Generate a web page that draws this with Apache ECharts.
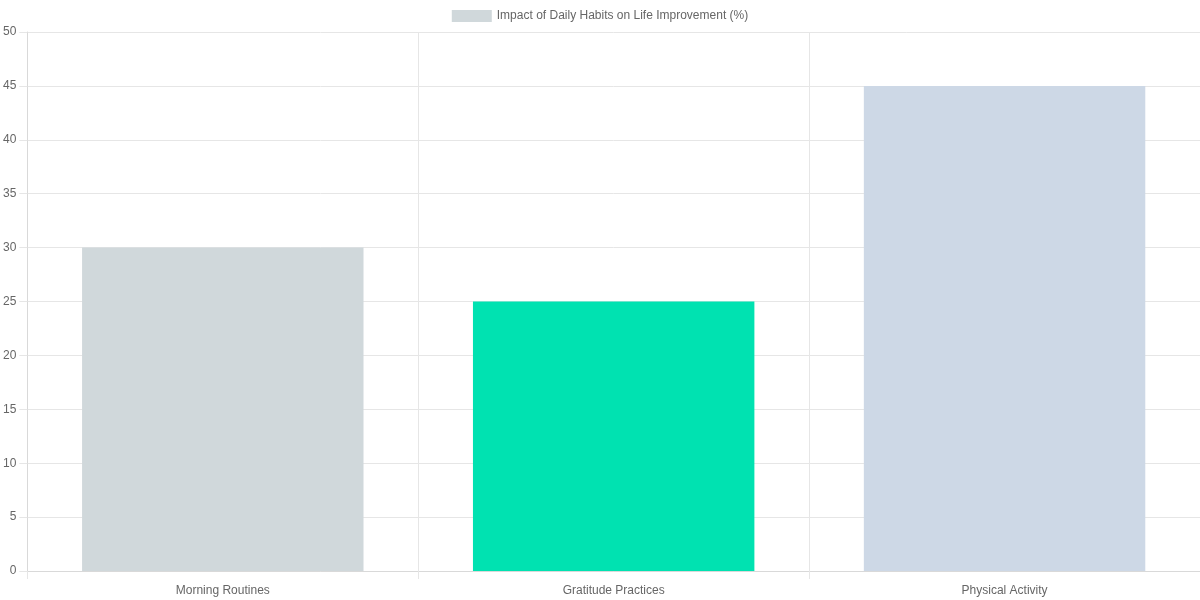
<!DOCTYPE html>
<html>
<head>
<meta charset="utf-8">
<script src="https://cdn.jsdelivr.net/npm/echarts@6/dist/echarts.min.js"></script>
<style>html,body{margin:0;padding:0;background:#fff;}#c{width:1200px;height:600px;}</style>
</head>
<body>
<div id="c"></div>
<script>
const categories = ['Morning Routines', 'Gratitude Practices', 'Physical Activity'];
const values = [30, 25, 45];
const barColors = ['#d0d8db', '#00e2b1', '#cdd8e6'];
const seriesName = 'Impact of Daily Habits on Life Improvement (%)';

const chart = echarts.init(document.getElementById('c'), null, {renderer: 'canvas'});
const font = 'Liberation Sans, Arial, Helvetica, sans-serif';
chart.setOption({
  animation: false,
  textStyle: {fontFamily: font},
  legend: {
    top: 5, left: 'center',
    icon: 'rect',
    itemWidth: 40, itemHeight: 12, itemGap: 10,
    textStyle: {color: '#666', fontSize: 12, fontFamily: font},
    data: [seriesName]
  },
  grid: {left: 27, right: 0, top: 32, bottom: 29, containLabel: false},
  xAxis: {
    type: 'category',
    data: categories,
    boundaryGap: true,
    axisLine: {show: true, lineStyle: {color: '#d9d9d9'}},
    axisTick: {show: true, length: 8, alignWithLabel: false, lineStyle: {color: '#e6e6e6'}},
    splitLine: {show: true, lineStyle: {color: '#e6e6e6'}},
    axisLabel: {color: '#666', fontSize: 12, margin: 14, fontFamily: font}
  },
  yAxis: {
    type: 'value',
    min: 0, max: 50, interval: 5,
    axisLine: {show: true, lineStyle: {color: '#d9d9d9'}},
    axisTick: {show: true, length: 8, lineStyle: {color: '#e6e6e6'}},
    splitLine: {show: true, lineStyle: {color: '#e6e6e6'}},
    axisLabel: {color: '#666', fontSize: 12, margin: 11, fontFamily: font, padding: [2, 0, 0, 0]}
  },
  series: [{
    name: seriesName,
    type: 'bar',
    barCategoryGap: '28%',
    itemStyle: {color: barColors[0]},
    data: values.map((v, i) => ({value: v, itemStyle: {color: barColors[i]}}))
  }]
});
</script>
</body>
</html>
